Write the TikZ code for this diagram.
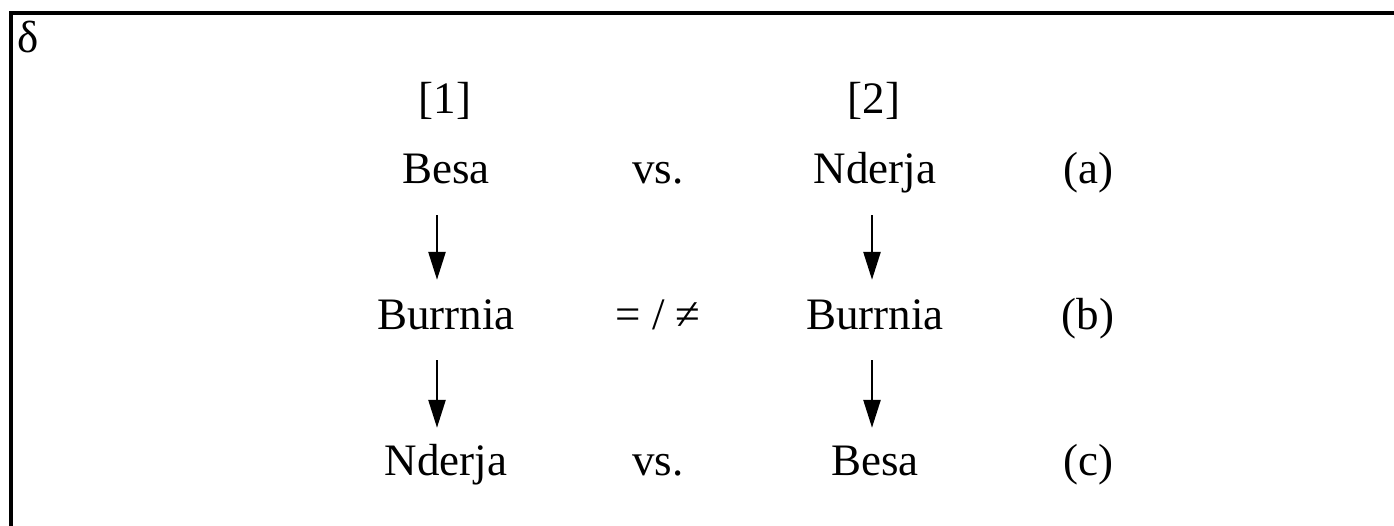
\documentclass[tikz,border=0pt]{standalone}
\usepackage{fontspec}
\setmainfont{Liberation Serif}
\usetikzlibrary{arrows.meta}
\begin{document}
\begin{tikzpicture}[x=1pt,y=-1pt,
  lbl/.style={anchor=base,inner sep=0pt,text height=31pt,text depth=0pt,
    font=\fontsize{45}{54}\selectfont},
  arr/.style={line width=2.6pt,-{Triangle[length=28pt,width=17pt]}},
  frame/.style={line width=3.5pt}]
\useasboundingbox (0,0) rectangle (1394,525);
\fill[white] (0,0) rectangle (1394,525);
\draw[frame] (11,527) -- (11,13) -- (1396,13);
\node[lbl,anchor=base west] (delta) at (17,52) {δ};
% header
\node[lbl] (h1) at (445,113) {[1]};
\node[lbl] (h2) at (874,113) {[2]};
% row a
\node[lbl] (a1) at (446,183) {Besa};
\node[lbl] (av) at (658,183) {vs.};
\node[lbl] (a2) at (875,183) {Nderja};
\node[lbl] (al) at (1088,183) {(a)};
% row b
\node[lbl] (b1) at (446,329) {Burrnia};
\node[lbl] (bv) at (658,329) {= / ≠};
\node[lbl] (b2) at (875,329) {Burrnia};
\node[lbl] (bl) at (1088,329) {(b)};
% row c
\node[lbl] (c1) at (446,475) {Nderja};
\node[lbl] (cv) at (658,475) {vs.};
\node[lbl] (c2) at (875,475) {Besa};
\node[lbl] (cl) at (1088,475) {(c)};
% arrows
\draw[arr,shorten <=32pt,shorten >=18pt] ([xshift=-9pt]a1.south) -- ([xshift=-9pt]b1.north);
\draw[arr,shorten <=31pt,shorten >=16pt] ([xshift=-9pt]b1.south) -- ([xshift=-9pt]c1.north);
\draw[arr,shorten <=32pt,shorten >=18pt] ([xshift=-3pt]a2.south) -- ([xshift=-3pt]b2.north);
\draw[arr,shorten <=31pt,shorten >=16pt] ([xshift=-3pt]b2.south) -- ([xshift=-3pt]c2.north);
\end{tikzpicture}
\end{document}
